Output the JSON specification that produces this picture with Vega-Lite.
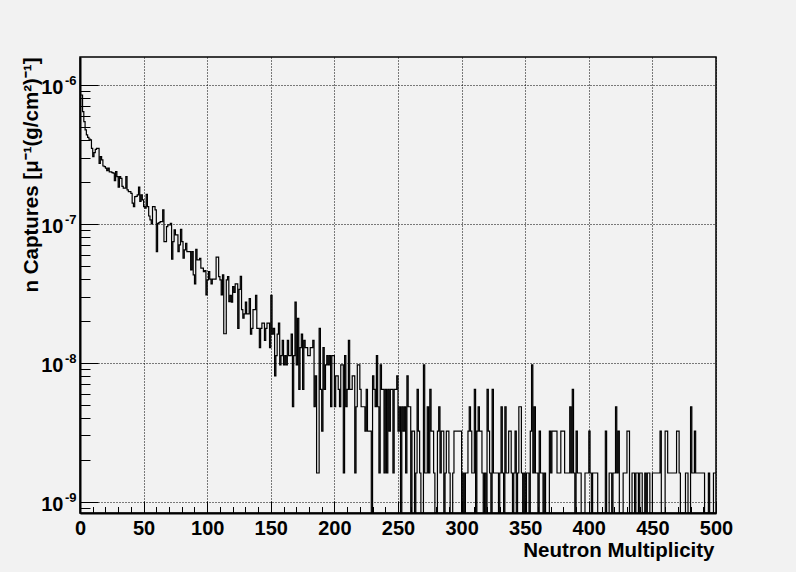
{
  "$schema": "https://vega.github.io/schema/vega-lite/v6.json",
  "width": 636,
  "height": 456,
  "autosize": {"type": "none"},
  "padding": {"left": 80, "top": 57, "right": 80, "bottom": 59},
  "background": "#f2f2f2",
  "config": {
    "view": {"stroke": "black", "strokeWidth": 1.5, "fill": null},
    "scale": {"invalid": {"y": "zero-or-min"}},
    "axis": {
      "labelFont": "Liberation Sans", "labelFontWeight": "bold", "labelFontSize": 20, "labelColor": "black",
      "titleFont": "Liberation Sans", "titleFontWeight": "bold", "titleFontSize": 20.5, "titleColor": "black",
      "labelFlush": false, "labelOverlap": false, "tickColor": "black", "tickWidth": 1,
      "gridColor": "black", "gridDash": [1, 2], "gridWidth": 1, "gridOpacity": 1, "domainColor": "black", "domainWidth": 2
    }
  },
  "data": {"values": [
{"n":0,"rate":8.47e-7},{"n":1,"rate":8.47e-7},{"n":2,"rate":6.43e-7},{"n":3,"rate":5.45e-7},{"n":4,"rate":4.75e-7},{"n":5,"rate":4.37e-7},{"n":6,"rate":4.2e-7},{"n":7,"rate":4.07e-7},{"n":8,"rate":4.02e-7},{"n":9,"rate":3.5e-7},
{"n":10,"rate":3.05e-7},{"n":11,"rate":3.26e-7},{"n":12,"rate":3.44e-7},{"n":13,"rate":3.5e-7},{"n":14,"rate":3.5e-7},{"n":15,"rate":2.73e-7},{"n":16,"rate":3.05e-7},{"n":17,"rate":2.89e-7},{"n":18,"rate":2.61e-7},{"n":19,"rate":2.58e-7},
{"n":20,"rate":2.52e-7},{"n":21,"rate":2.42e-7},{"n":22,"rate":2.52e-7},{"n":23,"rate":2.37e-7},{"n":24,"rate":2.37e-7},{"n":25,"rate":2.34e-7},{"n":26,"rate":2.32e-7},{"n":27,"rate":2.05e-7},{"n":28,"rate":2.38e-7},{"n":29,"rate":2.19e-7},
{"n":30,"rate":1.84e-7},{"n":31,"rate":2.19e-7},{"n":32,"rate":2.13e-7},{"n":33,"rate":1.86e-7},{"n":34,"rate":1.81e-7},{"n":35,"rate":1.81e-7},{"n":36,"rate":2.19e-7},{"n":37,"rate":1.76e-7},{"n":38,"rate":1.71e-7},{"n":39,"rate":1.71e-7},
{"n":40,"rate":1.66e-7},{"n":41,"rate":1.41e-7},{"n":42,"rate":1.33e-7},{"n":43,"rate":1.57e-7},{"n":44,"rate":1.58e-7},{"n":45,"rate":1.62e-7},{"n":46,"rate":1.84e-7},{"n":47,"rate":1.45e-7},{"n":48,"rate":1.62e-7},{"n":49,"rate":1.49e-7},
{"n":50,"rate":1.33e-7},{"n":51,"rate":1.3e-7},{"n":52,"rate":1.63e-7},{"n":53,"rate":1.33e-7},{"n":54,"rate":1.14e-7},{"n":55,"rate":1.07e-7},{"n":56,"rate":1.0e-7},{"n":57,"rate":1.33e-7},{"n":58,"rate":1.33e-7},{"n":59,"rate":1.26e-7},
{"n":60,"rate":6.32e-8},{"n":61,"rate":1.01e-7},{"n":62,"rate":1.02e-7},{"n":63,"rate":1.04e-7},{"n":64,"rate":1.04e-7},{"n":65,"rate":1.26e-7},{"n":66,"rate":7.46e-8},{"n":67,"rate":7.46e-8},{"n":68,"rate":9.57e-8},{"n":69,"rate":9.83e-8},
{"n":70,"rate":9.83e-8},{"n":71,"rate":1.01e-7},{"n":72,"rate":5.57e-8},{"n":73,"rate":7.46e-8},{"n":74,"rate":9.05e-8},{"n":75,"rate":8.33e-8},{"n":76,"rate":8.33e-8},{"n":77,"rate":6.32e-8},{"n":78,"rate":7.06e-8},{"n":79,"rate":9.15e-8},
{"n":80,"rate":7.46e-8},{"n":81,"rate":5.66e-8},{"n":82,"rate":6.5e-8},{"n":83,"rate":7.26e-8},{"n":84,"rate":6.32e-8},{"n":85,"rate":6.32e-8},{"n":86,"rate":6.32e-8},{"n":87,"rate":4.67e-8},{"n":88,"rate":6.32e-8},{"n":89,"rate":4.3e-8},
{"n":90,"rate":3.7e-8},{"n":91,"rate":6.57e-8},{"n":92,"rate":5.51e-8},{"n":93,"rate":5.51e-8},{"n":94,"rate":5.66e-8},{"n":95,"rate":4.8e-8},{"n":96,"rate":4.8e-8},{"n":97,"rate":4.54e-8},{"n":98,"rate":4.62e-8},{"n":99,"rate":3.08e-8},
{"n":100,"rate":3.95e-8},{"n":101,"rate":4.54e-8},{"n":102,"rate":4.0e-8},{"n":103,"rate":3.7e-8},{"n":104,"rate":4.0e-8},{"n":105,"rate":4.0e-8},{"n":106,"rate":4.0e-8},{"n":107,"rate":5.76e-8},{"n":108,"rate":5.76e-8},{"n":109,"rate":4.18e-8},
{"n":110,"rate":3.95e-8},{"n":111,"rate":3.08e-8},{"n":112,"rate":4.3e-8},{"n":113,"rate":1.62e-8},{"n":114,"rate":1.62e-8},{"n":115,"rate":3.95e-8},{"n":116,"rate":4.18e-8},{"n":117,"rate":2.76e-8},{"n":118,"rate":3.059e-8},{"n":119,"rate":2.737e-8},
{"n":120,"rate":3.542e-8},{"n":121,"rate":3.22e-8},{"n":122,"rate":3.703e-8},{"n":123,"rate":3.703e-8},{"n":124,"rate":1.771e-8},{"n":125,"rate":3.381e-8},{"n":126,"rate":4.186e-8},{"n":127,"rate":2.415e-8},{"n":128,"rate":2.093e-8},{"n":129,"rate":2.254e-8},
{"n":130,"rate":2.737e-8},{"n":131,"rate":2.254e-8},{"n":132,"rate":2.254e-8},{"n":133,"rate":2.898e-8},{"n":134,"rate":1.61e-8},{"n":135,"rate":1.771e-8},{"n":136,"rate":2.415e-8},{"n":137,"rate":2.415e-8},{"n":138,"rate":3.059e-8},{"n":139,"rate":1.771e-8},
{"n":140,"rate":1.771e-8},{"n":141,"rate":1.288e-8},{"n":142,"rate":1.771e-8},{"n":143,"rate":1.932e-8},{"n":144,"rate":1.932e-8},{"n":145,"rate":1.449e-8},{"n":146,"rate":1.771e-8},{"n":147,"rate":1.932e-8},{"n":148,"rate":1.932e-8},{"n":149,"rate":1.288e-8},
{"n":150,"rate":3.059e-8},{"n":151,"rate":1.61e-8},{"n":152,"rate":1.771e-8},{"n":153,"rate":8.05e-9},{"n":154,"rate":1.127e-8},{"n":155,"rate":1.61e-8},{"n":156,"rate":1.932e-8},{"n":157,"rate":9.66e-9},{"n":158,"rate":1.127e-8},{"n":159,"rate":1.449e-8},
{"n":160,"rate":9.66e-9},{"n":161,"rate":1.127e-8},{"n":162,"rate":9.66e-9},{"n":163,"rate":1.449e-8},{"n":164,"rate":1.127e-8},{"n":165,"rate":1.127e-8},{"n":166,"rate":1.61e-8},{"n":167,"rate":4.83e-9},{"n":168,"rate":1.127e-8},{"n":169,"rate":2.737e-8},
{"n":170,"rate":9.66e-9},{"n":171,"rate":2.093e-8},{"n":172,"rate":6.44e-9},{"n":173,"rate":1.288e-8},{"n":174,"rate":1.61e-8},{"n":175,"rate":6.44e-9},{"n":176,"rate":1.449e-8},{"n":177,"rate":1.288e-8},{"n":178,"rate":1.288e-8},{"n":179,"rate":1.127e-8},
{"n":180,"rate":1.127e-8},{"n":181,"rate":1.288e-8},{"n":182,"rate":1.288e-8},{"n":183,"rate":1.449e-8},{"n":184,"rate":4.83e-9},{"n":185,"rate":8.05e-9},{"n":186,"rate":1.61e-9},{"n":187,"rate":1.61e-9},{"n":188,"rate":1.771e-8},{"n":189,"rate":6.44e-9},
{"n":190,"rate":3.22e-9},{"n":191,"rate":1.288e-8},{"n":192,"rate":6.44e-9},{"n":193,"rate":9.66e-9},{"n":194,"rate":1.127e-8},{"n":195,"rate":9.66e-9},{"n":196,"rate":1.127e-8},{"n":197,"rate":4.83e-9},{"n":198,"rate":1.127e-8},{"n":199,"rate":1.127e-8},
{"n":200,"rate":4.83e-9},{"n":201,"rate":8.05e-9},{"n":202,"rate":8.05e-9},{"n":203,"rate":6.44e-9},{"n":204,"rate":4.83e-9},{"n":205,"rate":9.66e-9},{"n":206,"rate":9.66e-9},{"n":207,"rate":1.61e-9},{"n":208,"rate":1.127e-8},{"n":209,"rate":4.83e-9},
{"n":210,"rate":6.44e-9},{"n":211,"rate":1.449e-8},{"n":212,"rate":6.44e-9},{"n":213,"rate":6.44e-9},{"n":214,"rate":8.05e-9},{"n":215,"rate":8.05e-9},{"n":216,"rate":1.61e-9},{"n":217,"rate":4.83e-9},{"n":218,"rate":9.66e-9},{"n":219,"rate":9.66e-9},
{"n":220,"rate":6.44e-9},{"n":221,"rate":4.83e-9},{"n":222,"rate":4.83e-9},{"n":223,"rate":4.83e-9},{"n":224,"rate":3.22e-9},{"n":225,"rate":6.44e-9},{"n":226,"rate":3.22e-9},{"n":227,"rate":3.22e-9},{"n":228,"rate":3.22e-9},{"n":229,"rate":null},
{"n":230,"rate":8.05e-9},{"n":231,"rate":6.44e-9},{"n":232,"rate":4.83e-9},{"n":233,"rate":1.127e-8},{"n":234,"rate":4.83e-9},{"n":235,"rate":1.61e-9},{"n":236,"rate":9.66e-9},{"n":237,"rate":6.44e-9},{"n":238,"rate":6.44e-9},{"n":239,"rate":1.61e-9},
{"n":240,"rate":6.44e-9},{"n":241,"rate":1.61e-9},{"n":242,"rate":6.44e-9},{"n":243,"rate":3.22e-9},{"n":244,"rate":6.44e-9},{"n":245,"rate":6.44e-9},{"n":246,"rate":1.61e-9},{"n":247,"rate":6.44e-9},{"n":248,"rate":6.44e-9},{"n":249,"rate":8.05e-9},
{"n":250,"rate":3.22e-9},{"n":251,"rate":4.83e-9},{"n":252,"rate":null},{"n":253,"rate":4.83e-9},{"n":254,"rate":3.22e-9},{"n":255,"rate":4.83e-9},{"n":256,"rate":1.61e-9},{"n":257,"rate":8.05e-9},{"n":258,"rate":4.83e-9},{"n":259,"rate":4.83e-9},
{"n":260,"rate":null},{"n":261,"rate":3.22e-9},{"n":262,"rate":3.22e-9},{"n":263,"rate":null},{"n":264,"rate":1.61e-9},{"n":265,"rate":6.44e-9},{"n":266,"rate":3.22e-9},{"n":267,"rate":1.61e-9},{"n":268,"rate":null},{"n":269,"rate":null},
{"n":270,"rate":9.66e-9},{"n":271,"rate":1.61e-9},{"n":272,"rate":1.61e-9},{"n":273,"rate":4.83e-9},{"n":274,"rate":1.61e-9},{"n":275,"rate":6.44e-9},{"n":276,"rate":3.22e-9},{"n":277,"rate":3.22e-9},{"n":278,"rate":1.61e-9},{"n":279,"rate":null},
{"n":280,"rate":null},{"n":281,"rate":3.22e-9},{"n":282,"rate":4.83e-9},{"n":283,"rate":1.61e-9},{"n":284,"rate":3.22e-9},{"n":285,"rate":3.22e-9},{"n":286,"rate":null},{"n":287,"rate":1.61e-9},{"n":288,"rate":3.22e-9},{"n":289,"rate":3.22e-9},
{"n":290,"rate":1.61e-9},{"n":291,"rate":null},{"n":292,"rate":null},{"n":293,"rate":1.61e-9},{"n":294,"rate":3.22e-9},{"n":295,"rate":3.22e-9},{"n":296,"rate":3.22e-9},{"n":297,"rate":3.22e-9},{"n":298,"rate":3.22e-9},{"n":299,"rate":3.22e-9},
{"n":300,"rate":null},{"n":301,"rate":1.61e-9},{"n":302,"rate":null},{"n":303,"rate":1.61e-9},{"n":304,"rate":1.61e-9},{"n":305,"rate":3.22e-9},{"n":306,"rate":4.83e-9},{"n":307,"rate":3.22e-9},{"n":308,"rate":1.61e-9},{"n":309,"rate":1.61e-9},
{"n":310,"rate":6.44e-9},{"n":311,"rate":null},{"n":312,"rate":3.22e-9},{"n":313,"rate":4.83e-9},{"n":314,"rate":3.22e-9},{"n":315,"rate":3.22e-9},{"n":316,"rate":1.61e-9},{"n":317,"rate":null},{"n":318,"rate":1.61e-9},{"n":319,"rate":null},
{"n":320,"rate":6.44e-9},{"n":321,"rate":3.22e-9},{"n":322,"rate":1.61e-9},{"n":323,"rate":null},{"n":324,"rate":6.44e-9},{"n":325,"rate":1.61e-9},{"n":326,"rate":1.61e-9},{"n":327,"rate":1.61e-9},{"n":328,"rate":1.61e-9},{"n":329,"rate":null},
{"n":330,"rate":1.61e-9},{"n":331,"rate":4.83e-9},{"n":332,"rate":1.61e-9},{"n":333,"rate":null},{"n":334,"rate":4.83e-9},{"n":335,"rate":1.61e-9},{"n":336,"rate":1.61e-9},{"n":337,"rate":3.22e-9},{"n":338,"rate":3.22e-9},{"n":339,"rate":1.61e-9},
{"n":340,"rate":null},{"n":341,"rate":1.61e-9},{"n":342,"rate":3.22e-9},{"n":343,"rate":null},{"n":344,"rate":1.61e-9},{"n":345,"rate":4.83e-9},{"n":346,"rate":4.83e-9},{"n":347,"rate":1.61e-9},{"n":348,"rate":null},{"n":349,"rate":1.61e-9},
{"n":350,"rate":null},{"n":351,"rate":1.61e-9},{"n":352,"rate":1.61e-9},{"n":353,"rate":null},{"n":354,"rate":3.22e-9},{"n":355,"rate":9.66e-9},{"n":356,"rate":1.61e-9},{"n":357,"rate":4.83e-9},{"n":358,"rate":1.61e-9},{"n":359,"rate":1.61e-9},
{"n":360,"rate":null},{"n":361,"rate":3.22e-9},{"n":362,"rate":1.61e-9},{"n":363,"rate":1.61e-9},{"n":364,"rate":null},{"n":365,"rate":1.61e-9},{"n":366,"rate":null},{"n":367,"rate":null},{"n":368,"rate":null},{"n":369,"rate":3.22e-9},
{"n":370,"rate":1.61e-9},{"n":371,"rate":3.22e-9},{"n":372,"rate":3.22e-9},{"n":373,"rate":3.22e-9},{"n":374,"rate":3.22e-9},{"n":375,"rate":1.61e-9},{"n":376,"rate":1.61e-9},{"n":377,"rate":1.61e-9},{"n":378,"rate":3.22e-9},{"n":379,"rate":3.22e-9},
{"n":380,"rate":3.22e-9},{"n":381,"rate":1.61e-9},{"n":382,"rate":1.61e-9},{"n":383,"rate":1.61e-9},{"n":384,"rate":1.61e-9},{"n":385,"rate":4.83e-9},{"n":386,"rate":1.61e-9},{"n":387,"rate":6.44e-9},{"n":388,"rate":1.61e-9},{"n":389,"rate":null},
{"n":390,"rate":3.22e-9},{"n":391,"rate":1.61e-9},{"n":392,"rate":1.61e-9},{"n":393,"rate":1.61e-9},{"n":394,"rate":null},{"n":395,"rate":null},{"n":396,"rate":null},{"n":397,"rate":1.61e-9},{"n":398,"rate":1.61e-9},{"n":399,"rate":1.61e-9},
{"n":400,"rate":3.22e-9},{"n":401,"rate":1.61e-9},{"n":402,"rate":null},{"n":403,"rate":1.61e-9},{"n":404,"rate":1.61e-9},{"n":405,"rate":1.61e-9},{"n":406,"rate":1.61e-9},{"n":407,"rate":null},{"n":408,"rate":null},{"n":409,"rate":null},
{"n":410,"rate":null},{"n":411,"rate":null},{"n":412,"rate":null},{"n":413,"rate":3.22e-9},{"n":414,"rate":null},{"n":415,"rate":null},{"n":416,"rate":1.61e-9},{"n":417,"rate":1.61e-9},{"n":418,"rate":null},{"n":419,"rate":1.61e-9},
{"n":420,"rate":1.61e-9},{"n":421,"rate":4.83e-9},{"n":422,"rate":1.61e-9},{"n":423,"rate":3.22e-9},{"n":424,"rate":null},{"n":425,"rate":null},{"n":426,"rate":null},{"n":427,"rate":1.61e-9},{"n":428,"rate":1.61e-9},{"n":429,"rate":1.61e-9},
{"n":430,"rate":3.22e-9},{"n":431,"rate":3.22e-9},{"n":432,"rate":null},{"n":433,"rate":null},{"n":434,"rate":1.61e-9},{"n":435,"rate":1.61e-9},{"n":436,"rate":null},{"n":437,"rate":1.61e-9},{"n":438,"rate":1.61e-9},{"n":439,"rate":null},
{"n":440,"rate":1.61e-9},{"n":441,"rate":1.61e-9},{"n":442,"rate":null},{"n":443,"rate":null},{"n":444,"rate":1.61e-9},{"n":445,"rate":null},{"n":446,"rate":1.61e-9},{"n":447,"rate":1.61e-9},{"n":448,"rate":null},{"n":449,"rate":null},
{"n":450,"rate":1.61e-9},{"n":451,"rate":1.61e-9},{"n":452,"rate":1.61e-9},{"n":453,"rate":1.61e-9},{"n":454,"rate":1.61e-9},{"n":455,"rate":1.61e-9},{"n":456,"rate":3.22e-9},{"n":457,"rate":null},{"n":458,"rate":null},{"n":459,"rate":null},
{"n":460,"rate":3.22e-9},{"n":461,"rate":3.22e-9},{"n":462,"rate":1.61e-9},{"n":463,"rate":1.61e-9},{"n":464,"rate":1.61e-9},{"n":465,"rate":1.61e-9},{"n":466,"rate":1.61e-9},{"n":467,"rate":1.61e-9},{"n":468,"rate":1.61e-9},{"n":469,"rate":3.22e-9},
{"n":470,"rate":3.22e-9},{"n":471,"rate":1.61e-9},{"n":472,"rate":null},{"n":473,"rate":null},{"n":474,"rate":null},{"n":475,"rate":null},{"n":476,"rate":1.61e-9},{"n":477,"rate":1.61e-9},{"n":478,"rate":null},{"n":479,"rate":null},
{"n":480,"rate":4.83e-9},{"n":481,"rate":1.61e-9},{"n":482,"rate":1.61e-9},{"n":483,"rate":3.22e-9},{"n":484,"rate":1.61e-9},{"n":485,"rate":1.61e-9},{"n":486,"rate":1.61e-9},{"n":487,"rate":1.61e-9},{"n":488,"rate":1.61e-9},{"n":489,"rate":1.61e-9},
{"n":490,"rate":1.61e-9},{"n":491,"rate":null},{"n":492,"rate":null},{"n":493,"rate":null},{"n":494,"rate":1.61e-9},{"n":495,"rate":null},{"n":496,"rate":null},{"n":497,"rate":null},{"n":498,"rate":1.61e-9},{"n":499,"rate":1.61e-9},
{"n":500,"rate":1.61e-9}
  ]},
  "layer": [
    {
      "mark": {"type": "line", "interpolate": "step-after", "color": "black", "strokeWidth": 1.2, "clip": true, "invalid": "show"},
      "encoding": {
        "x": {"field": "n", "type": "quantitative", "scale": {"domain": [0, 500], "nice": false, "zero": false},
          "axis": {"orient": "bottom", "values": [0,50,100,150,200,250,300,350,400,450,500], "ticks": false, "labelPadding": 5, "grid": true, "domain": true,
            "title": "Neutron Multiplicity", "titleAnchor": "end", "titleAlign": "right", "titleBaseline": "alphabetic", "titleX": 634, "titleY": 43}},
        "y": {"field": "rate", "type": "quantitative", "scale": {"type": "log", "domain": [8.3e-10, 1.59e-6], "nice": false},
          "axis": {"orient": "left", "values": [1e-9, 1e-8, 1e-7, 1e-6], "ticks": false, "labelPadding": 17, "labelOffset": 3, "grid": true, "domain": true,
            "labelExpr": "'10'",
            "title": "n Captures [μ⁻¹(g/cm²)⁻¹]", "titleAnchor": "end", "titleAngle": 270, "titleAlign": "right", "titleBaseline": "alphabetic", "titleX": -43, "titleY": 0}}
      }
    },
    {
      "mark": {"type": "point", "opacity": 0},
      "encoding": {
        "x": {"field": "n", "type": "quantitative",
          "axis": {"orient": "bottom", "values": [0,50,100,150,200,250,300,350,400,450,500], "labels": false, "grid": false, "domain": false, "ticks": true, "tickSize": -12, "title": null}},
        "y": {"field": "rate", "type": "quantitative",
          "axis": {"orient": "left", "values": [1e-9, 1e-8, 1e-7, 1e-6], "labels": false, "grid": false, "domain": false, "ticks": true, "tickSize": -18, "title": null}}
      }
    },
    {
      "mark": {"type": "point", "opacity": 0},
      "encoding": {
        "x": {"field": "n", "type": "quantitative",
          "axis": {"orient": "bottom", "values": [10,20,30,40,60,70,80,90,110,120,130,140,160,170,180,190,210,220,230,240,260,270,280,290,310,320,330,340,360,370,380,390,410,420,430,440,460,470,480,490], "labels": false, "grid": false, "domain": false, "ticks": true, "tickSize": -6.5, "title": null}},
        "y": {"field": "rate", "type": "quantitative",
          "axis": {"orient": "left", "values": [9e-10, 2e-9, 3e-9, 4e-9, 5e-9, 6e-9, 7e-9, 8e-9, 9e-9, 2e-8, 3e-8, 4e-8, 5e-8, 6e-8, 7e-8, 8e-8, 9e-8, 2e-7, 3e-7, 4e-7, 5e-7, 6e-7, 7e-7, 8e-7, 9e-7], "labels": false, "grid": false, "domain": false, "ticks": true, "tickSize": -10, "title": null}}
      }
    },
    {
      "mark": {"type": "point", "opacity": 0},
      "encoding": {
        "y": {"field": "rate", "type": "quantitative",
          "axis": {"orient": "left", "values": [1e-9, 1e-8, 1e-7, 1e-6], "ticks": false, "grid": false, "domain": false, "title": null,
            "labelFontSize": 13, "labelPadding": 4, "labelOffset": -4,
            "labelExpr": "datum.value < 5e-9 ? '-9' : datum.value < 5e-8 ? '-8' : datum.value < 5e-7 ? '-7' : '-6'"}}
      }
    }
  ],
  "resolve": {"axis": {"x": "independent", "y": "independent"}}
}
